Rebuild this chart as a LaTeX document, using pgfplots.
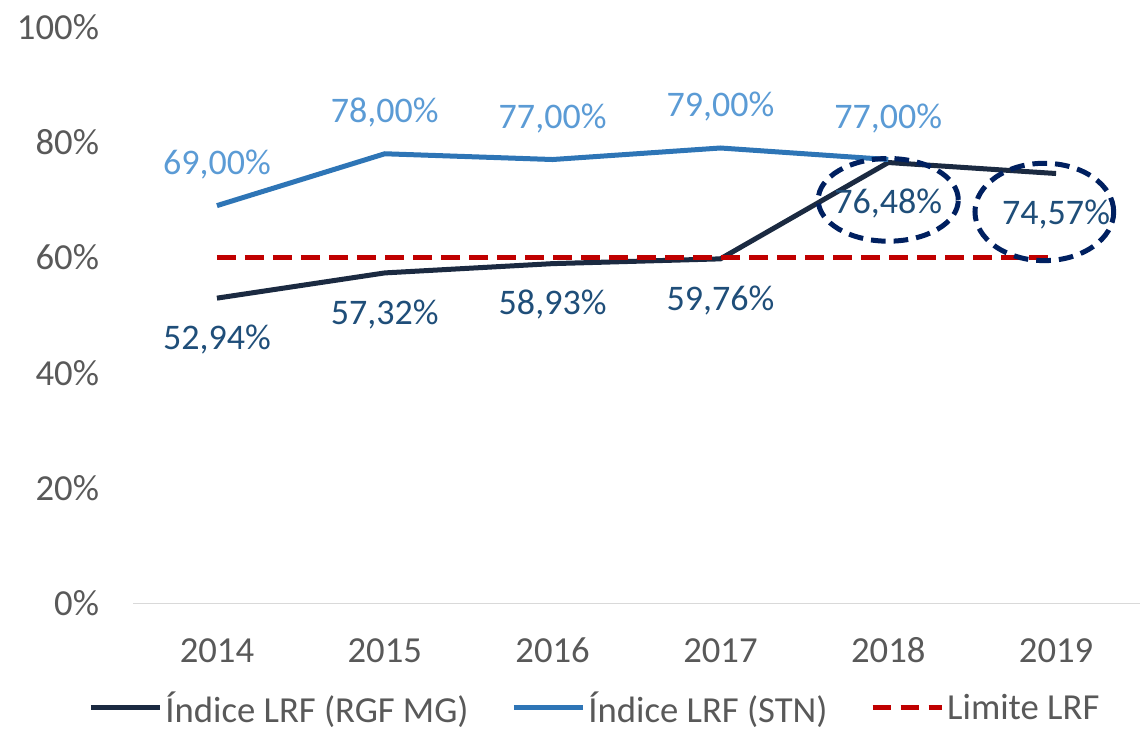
\documentclass[border=0pt]{standalone}
\usepackage{fontspec}
\setmainfont{Carlito}
\usepackage{pgfplots}
\pgfplotsset{compat=1.18}
\usetikzlibrary{shapes.geometric}

\definecolor{darkline}{HTML}{1B2A41}
\definecolor{darklab}{HTML}{1F4E79}
\definecolor{blueline}{HTML}{2E75B6}
\definecolor{bluelab}{HTML}{5B9BD5}
\definecolor{limred}{HTML}{C00000}
\definecolor{ringcol}{HTML}{002060}
\definecolor{txtgray}{HTML}{595959}

\begin{document}
\begin{tikzpicture}
\begin{axis}[
    scale only axis,
    width=755pt, height=432pt,
    xmin=-0.5, xmax=5.5,
    ymin=0, ymax=100,
    xtick={0,1,2,3,4,5},
    xticklabels={2014,2015,2016,2017,2018,2019},
    ytick={0,20,40,60,80,100},
    yticklabel={\pgfmathprintnumber{\tick}\%},
    /pgf/number format/assume math mode=true,
    axis x line*=bottom,
    axis y line*=left,
    x axis line style={draw=black!15, line width=1pt, -},
    y axis line style={draw=none},
    major tick length=0pt,
    tick label style={font=\fontsize{27.5}{32}\selectfont, text=txtgray},
    xticklabel style={anchor=north, text height=18pt, text depth=0pt, yshift=-23pt},
    yticklabel style={xshift=-22pt},
    clip=false,
    legend style={draw=none, at={(0.459,-0.146)}, anchor=north,
        inner ysep=1pt,
        legend columns=3, font=\fontsize{27.5}{32}\selectfont, text=txtgray,
        /tikz/every even column/.append style={column sep=30pt}},
    legend image code/.code={\draw[#1] (0pt,0pt) -- (52pt,0pt);},
    nodes near coords,
    point meta=explicit symbolic,
]
\addplot[darkline, line width=3.75pt,
    nodes near coords style={font=\fontsize{27}{32}\selectfont, text=darklab, anchor=center, yshift=-31pt}]
    coordinates {(0,52.94)[52,94\%] (1,57.32)[57,32\%] (2,58.93)[58,93\%] (3,59.76)[59,76\%] (4,76.48)[76,48\%] (5,74.57)[74,57\%]};
\addlegendentry{Índice LRF (RGF MG)}
\addplot[blueline, line width=3.75pt,
    nodes near coords style={font=\fontsize{27}{32}\selectfont, text=bluelab, anchor=center, yshift=31pt}]
    coordinates {(0,69)[69,00\%] (1,78)[78,00\%] (2,77)[77,00\%] (3,79)[79,00\%] (4,77)[77,00\%]};
\addlegendentry{Índice LRF (STN)}
\addplot[limred, line width=3.75pt, dash pattern=on 14pt off 7pt, nodes near coords={}]
    coordinates {(0,60) (1,60) (2,60) (3,60) (4,60) (5,60)};
\addlegendentry{Limite LRF}
\node[draw=ringcol, line width=3.75pt, dash pattern=on 11pt off 6pt, ellipse,
    minimum width=105pt, minimum height=62pt] at (axis cs:4,70) {};
\node[draw=ringcol, line width=3.75pt, dash pattern=on 11pt off 6pt, ellipse,
    minimum width=104pt, minimum height=73pt] at (axis cs:4.93,67.9) {};
\end{axis}
\pgfresetboundingbox
\path[use as bounding box] ([xshift=-99.75pt, yshift=-99pt]current axis.south west)
    rectangle ([yshift=20.25pt]current axis.north east);
\end{tikzpicture}
\end{document}
